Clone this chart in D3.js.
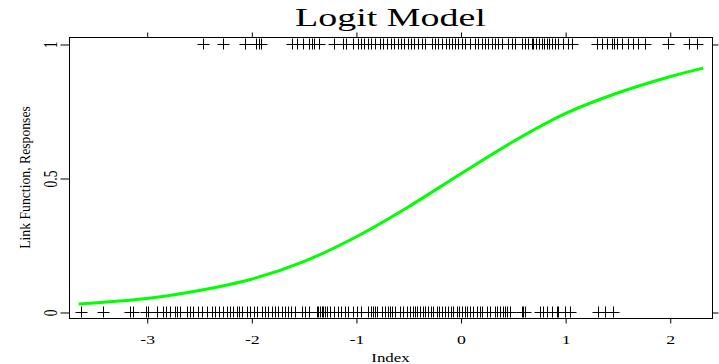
<!DOCTYPE html>
<html>
<head>
<meta charset="utf-8">
<script src="https://cdn.jsdelivr.net/npm/d3@7"></script>
<style>
  html, body { margin: 0; padding: 0; background: #fff; }
  svg { display: block; }
</style>
</head>
<body>
<svg id="chart" width="719" height="364"></svg>
<script>
// ---- data ----
const titleText = "Logit Model";
const xLabel = "Index";
const yLabel = "Link Function, Responses";
const xTicks = [-3, -2, -1, 0, 1, 2];
const xTickLabels = ["-3", "-2", "-1", "0", "1", "2"];
const yTicks = [0, 0.5, 1];
const yTickLabels = ["0", "0.5", "1"];

// observed responses equal to 1 (index values)
const responsesOne = [
  -2.465, -2.268, -2.060, -1.955, -1.929, -1.904, -1.608, -1.566, -1.503, -1.446,
  -1.423, -1.401, -1.350, -1.209, -1.120, -1.094, -1.025, -0.980, -0.951, -0.920,
  -0.887, -0.856, -0.817, -0.770, -0.738, -0.706, -0.664, -0.633, -0.600, -0.569,
  -0.537, -0.505, -0.473, -0.442, -0.403, -0.371, -0.339, -0.270, -0.244, -0.212,
  -0.174, -0.141, -0.110, -0.078, -0.053, -0.021, 0.011, 0.043, 0.091, 0.139,
  0.170, 0.203, 0.234, 0.266, 0.298, 0.330, 0.361, 0.394, 0.451, 0.489,
  0.521, 0.585, 0.617, 0.648, 0.681, 0.690, 0.722, 0.748, 0.776, 0.798,
  0.824, 0.849, 0.875, 0.903, 0.935, 0.983, 1.031, 1.069, 1.302, 1.350,
  1.398, 1.446, 1.468, 1.493, 1.541, 1.604, 1.652, 1.700, 1.764, 1.987,
  2.187, 2.258
];

// observed responses equal to 0 (index values)
const responsesZero = [
  -3.631, -3.421, -3.160, -3.134, -3.007, -2.985, -2.904, -2.841, -2.816, -2.778,
  -2.730, -2.707, -2.682, -2.612, -2.586, -2.554, -2.507, -2.474, -2.426, -2.379,
  -2.347, -2.306, -2.268, -2.235, -2.204, -2.172, -2.140, -2.118, -2.086, -2.044,
  -2.012, -1.971, -1.948, -1.895, -1.869, -1.837, -1.805, -1.773, -1.748, -1.709,
  -1.678, -1.646, -1.620, -1.582, -1.518, -1.487, -1.448, -1.375, -1.359, -1.343,
  -1.327, -1.312, -1.295, -1.279, -1.248, -1.207, -1.168, -1.142, -1.104, -1.073,
  -1.025, -0.992, -0.951, -0.881, -0.856, -0.834, -0.817, -0.801, -0.753, -0.722,
  -0.696, -0.674, -0.658, -0.626, -0.578, -0.547, -0.514, -0.483, -0.451, -0.435,
  -0.413, -0.387, -0.361, -0.339, -0.308, -0.285, -0.260, -0.228, -0.203, -0.180,
  -0.148, -0.117, -0.094, -0.069, -0.036, -0.011, 0.011, 0.043, 0.065, 0.091,
  0.122, 0.155, 0.186, 0.203, 0.256, 0.282, 0.330, 0.352, 0.378, 0.403,
  0.425, 0.447, 0.473, 0.585, 0.600, 0.617, 0.760, 0.792, 0.824, 0.872,
  0.920, 0.935, 0.998, 1.046, 1.312, 1.381, 1.461
];

// fitted link function
const curveX = [-3.65, -3.0, -2.5, -2.0, -1.5, -1.0, -0.5, 0.0, 0.5, 1.0, 1.5, 2.0, 2.32];
const curveY = [0.030, 0.050, 0.080, 0.122, 0.188, 0.280, 0.392, 0.515, 0.635, 0.740, 0.817, 0.878, 0.910];

// ---- drawing ----
const svg = d3.select("#chart");
const serif = "'Liberation Serif', 'DejaVu Serif', serif";
const plot = { left: 69, right: 712, top: 37, bottom: 318 };

const x = d3.scaleLinear().domain([-3.743, 2.404]).range([plot.left, plot.right]);
const y = d3.scaleLinear().domain([-0.0224, 1.0261]).range([plot.bottom, plot.top]);

// frame
svg.append("rect")
  .attr("x", plot.left + 0.5).attr("y", plot.top + 0.5)
  .attr("width", plot.right - plot.left).attr("height", plot.bottom - plot.top)
  .attr("fill", "none").attr("stroke", "#000").attr("stroke-width", 1);

function styleAxis(g) {
  g.select(".domain").remove();
  g.selectAll("line").attr("stroke", "#000").attr("stroke-width", 1);
  g.selectAll("text").attr("fill", "#000").attr("font-family", serif);
}

// bottom axis
svg.append("g")
  .attr("transform", `translate(0.5,${plot.bottom + 0.5})`)
  .call(d3.axisBottom(x).tickValues(xTicks).tickSize(5).tickPadding(12)
    .tickFormat((d, i) => xTickLabels[i]))
  .call(styleAxis)
  .call(g => g.selectAll("text").attr("font-size", 12.5).attr("transform", "scale(1.42,1)"));

// top axis (ticks only)
svg.append("g")
  .attr("transform", `translate(0.5,${plot.top + 0.5})`)
  .call(d3.axisTop(x).tickValues(xTicks).tickSize(5).tickFormat(""))
  .call(styleAxis);

// left axis with rotated labels
const leftAxis = svg.append("g")
  .attr("transform", `translate(${plot.left + 0.5},0.5)`)
  .call(d3.axisLeft(y).tickValues(yTicks).tickSize(9).tickFormat((d, i) => yTickLabels[i]))
  .call(styleAxis);
leftAxis.selectAll(".tick text")
  .attr("x", null).attr("dy", null)
  .attr("text-anchor", "middle")
  .attr("font-size", 13.5)
  .attr("transform", "translate(-13,0) rotate(-90) scale(1,1.35)");

// right axis (ticks only)
svg.append("g")
  .attr("transform", `translate(${plot.right + 0.5},0.5)`)
  .call(d3.axisRight(y).tickValues([0, 1]).tickSize(6).tickFormat(""))
  .call(styleAxis);

// fitted curve
const line = d3.line()
  .x((d, i) => x(curveX[i]))
  .y(d => y(d))
  .curve(d3.curveCatmullRom.alpha(0.5));
svg.append("path")
  .datum(curveY)
  .attr("d", line)
  .attr("fill", "none")
  .attr("stroke", "#00ff00")
  .attr("stroke-width", 3);

// plus symbols for responses
function drawPluses(values, level, cls) {
  const h = 6;
  const g = svg.append("g").attr("class", cls);
  const sel = g.selectAll("g").data(values).join("g")
    .attr("transform", d => `translate(${Math.round(x(d)) + 0.5},${Math.round(y(level)) + 0.5})`);
  sel.append("line").attr("x1", -h).attr("x2", h).attr("y1", 0).attr("y2", 0)
    .attr("stroke", "#000").attr("stroke-width", 1);
  sel.append("line").attr("x1", 0).attr("x2", 0).attr("y1", -h).attr("y2", h - 1)
    .attr("stroke", "#000").attr("stroke-width", 1);
}
drawPluses(responsesOne, 1, "ones");
drawPluses(responsesZero, 0, "zeros");

// title
svg.append("text")
  .attr("transform", `translate(${(plot.left + plot.right) / 2},26) scale(1.55,1)`)
  .attr("text-anchor", "middle")
  .attr("font-family", serif).attr("font-size", 24.5)
  .text(titleText);

// x label
svg.append("text")
  .attr("transform", `translate(${(plot.left + plot.right) / 2},362) scale(1.25,1)`)
  .attr("text-anchor", "middle")
  .attr("font-family", serif).attr("font-size", 13.5)
  .text(xLabel);

// y label
svg.append("text")
  .attr("transform", `translate(30,${(plot.top + plot.bottom) / 2}) rotate(-90) scale(1,1.1)`)
  .attr("text-anchor", "middle")
  .attr("font-family", serif).attr("font-size", 13.7)
  .text(yLabel);
</script>
</body>
</html>
